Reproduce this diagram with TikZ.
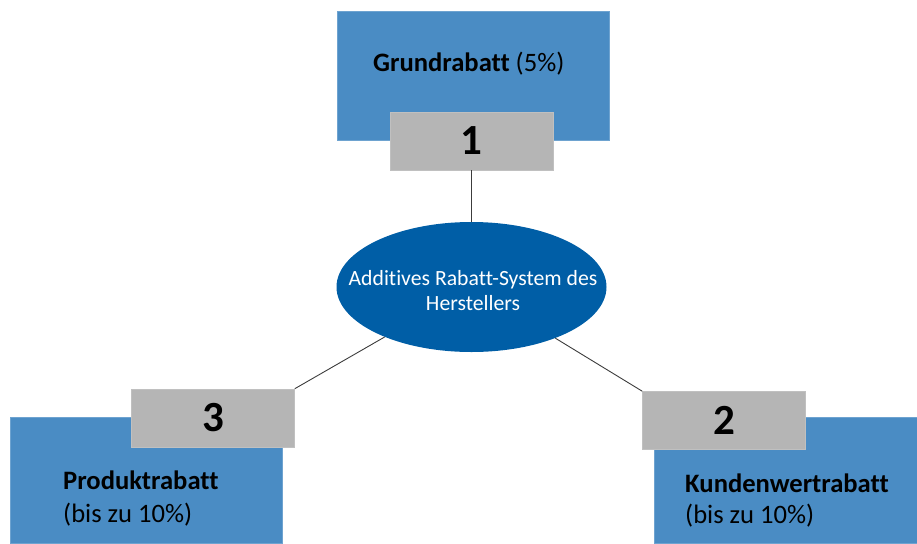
\documentclass[tikz,border=0pt]{standalone}
\usepackage{fontspec}
\setmainfont[Ligatures=NoCommon]{Carlito}
\usetikzlibrary{shapes.geometric}
\definecolor{boxblue}{RGB}{74,140,196}
\definecolor{ellblue}{RGB}{0,94,166}
\definecolor{numgray}{RGB}{181,181,181}
\definecolor{linegray}{RGB}{60,60,60}
\tikzset{
  bluebox/.style={rectangle, fill=boxblue, draw=boxblue!80!white, line width=0.6pt, inner sep=0pt},
  numbox/.style={rectangle, fill=numgray, draw=numgray!85!white, line width=0.6pt, inner sep=0pt,
    minimum width=163pt, minimum height=58pt, font=\fontsize{43}{46}\selectfont\bfseries},
  ellnode/.style={ellipse, fill=ellblue, inner sep=0pt, minimum width=270pt, minimum height=130pt},
  elltxt/.style={text=white, align=center, inner sep=0pt, font=\fontsize{21.7}{25}\selectfont},
  lbl/.style={anchor=base west, inner sep=0pt, font=\fontsize{26.6}{32}\selectfont},
  conn/.style={draw=linegray, line width=0.9pt}
}
\begin{document}
\begin{tikzpicture}[x=1pt,y=-1pt]
\useasboundingbox (0,0) rectangle (917,543);
% blue boxes
\node[bluebox, minimum width=272pt, minimum height=129pt] (top) at (473,75.5) {};
\node[bluebox, minimum width=272pt, minimum height=126pt] (left) at (146,480) {};
\node[bluebox, minimum width=263pt, minimum height=126pt] (right) at (785.5,480) {};
% texts in blue boxes
\node[lbl] (ttxt) at (373,71) {\textbf{Grundrabatt} (5\%)};
\node[lbl] (ltxt1) at (63,489) {\textbf{Produktrabatt}};
\node[lbl] (ltxt2) at (63,522) {(bis zu 10\%)};
\node[lbl] (rtxt1) at (685,492) {\textbf{Kundenwertrabatt}};
\node[lbl] (rtxt2) at (685,523) {(bis zu 10\%)};
% ellipse
\node[ellnode] (ell) at (471.5,287) {};
\node[elltxt] (elltext) at (473,291) {Additives Rabatt-System des\\Herstellers};
% number boxes
\node[numbox] (g1) at (471.5,141) {1};
\node[numbox] (g3) at (213,418) {3};
\node[numbox] (g2) at (724,420.5) {2};
% connectors
\draw[conn] (g1.south) -- (ell.north);
\draw[conn] (ell) -- (g3.north east);
\draw[conn] (ell) -- (g2.north west);
\end{tikzpicture}
\end{document}
